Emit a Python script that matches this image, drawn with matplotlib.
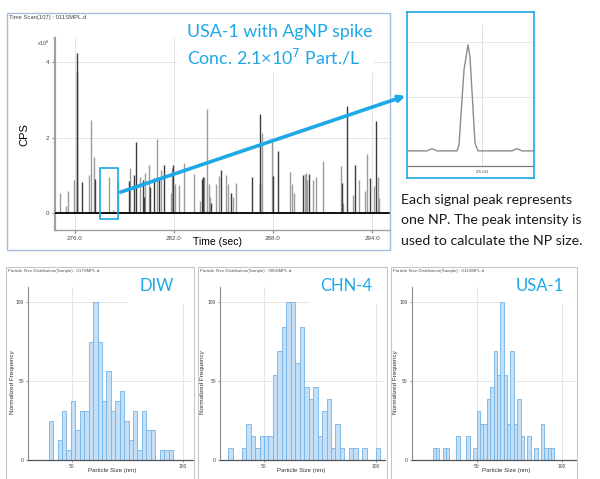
import matplotlib

matplotlib.use("Agg")
import matplotlib.pyplot as plt
from matplotlib.patches import Rectangle, FancyArrowPatch

W, H = 600, 479
BLUE = "#1da8e6"

# Time scan: spike times (s) and heights (x10^6 CPS), dark and light traces
dark_t = [276.10, 276.14, 276.40, 277.23, 279.28, 279.58, 279.72, 280.12, 280.20,
          280.54, 280.78, 281.09, 281.39, 281.95, 283.68, 283.76, 284.26, 284.86,
          285.47, 286.71, 287.20, 287.24, 287.98, 288.28, 289.83, 290.21, 292.18,
          292.48, 292.94, 293.89, 294.23]
dark_h = [3.73, 4.23, 0.84, 0.90, 0.86, 1.02, 1.89, 0.88, 0.42,
          0.71, 0.93, 0.97, 1.29, 1.29, 0.90, 0.97, 0.27, 1.15,
          0.53, 0.97, 2.62, 0.80, 0.99, 1.66, 1.02, 1.04, 0.81,
          2.83, 1.28, 0.93, 2.45]
light_t = [275.10, 275.44, 275.56, 275.96, 276.84, 276.96, 277.13, 278.05, 278.29,
           278.63, 279.34, 279.96, 280.24, 280.46, 280.99, 281.19, 281.79, 281.85,
           282.07, 282.29, 282.63, 283.22, 283.58, 283.80, 284.00, 284.10, 284.20,
           284.56, 284.74, 285.15, 285.27, 285.59, 285.73, 287.32, 287.96, 289.00,
           289.17, 289.25, 289.91, 289.97, 290.07, 290.45, 290.63, 291.06, 292.14,
           292.26, 292.84, 293.19, 293.55, 293.71, 294.15, 294.35, 294.45]
light_h = [0.55, 0.20, 0.60, 0.87, 1.02, 2.48, 1.49, 0.96, 0.09,
           0.82, 1.21, 0.95, 1.07, 1.27, 1.97, 1.15, 0.55, 1.19,
           0.77, 0.75, 1.34, 1.04, 0.33, 0.95, 2.76, 0.78, 0.44,
           0.78, 1.00, 1.02, 0.78, 0.44, 0.80, 2.12, 1.88, 1.10,
           0.78, 0.53, 1.04, 1.06, 0.88, 0.88, 0.95, 1.39, 1.25,
           0.27, 0.49, 0.88, 0.60, 1.58, 0.73, 0.95, 0.40]
time_ticks = [276.0, 282.0, 288.0, 294.0]
cps_ticks = [0, 2, 4]

# Zoomed single peak
inset_t = [278.2365, 278.2385, 278.2390, 278.2395, 278.2415, 278.2417, 278.2422,
           278.2426, 278.2428, 278.2433, 278.2436, 278.2470, 278.2475, 278.2480, 278.2492]
inset_y = [0.02, 0.02, 0.06, 0.02, 0.02, 0.13, 1.49,
           1.945, 1.73, 0.16, 0.02, 0.02, 0.06, 0.02, 0.02]

# Particle size histograms: bin left edges (nm) and counts
diw_bins = [39.5, 43.5, 45.5, 47.5, 49.5, 51.5, 53.5, 55.5, 57.5, 59.5, 61.5, 63.5, 65.5,
            67.5, 69.5, 71.5, 73.5, 75.5, 77.5, 79.5, 81.5, 83.5, 85.5, 89.5, 91.5, 93.5]
diw_counts = [4, 2, 5, 1, 6, 3, 5, 5, 12, 16, 12, 6, 9,
              5, 6, 7, 4, 2, 5, 1, 5, 3, 3, 1, 1, 1]
chn_bins = [34, 40, 42, 44, 46, 48, 50, 52, 54, 56, 58, 60, 62, 64,
            66, 68, 70, 72, 74, 76, 78, 80, 82, 84, 88, 90, 94, 100]
chn_counts = [1, 1, 3, 2, 1, 2, 2, 2, 7, 9, 11, 13, 13, 8,
              11, 6, 5, 6, 2, 4, 5, 1, 3, 1, 1, 1, 1, 1]
usa_bins = [23.8, 25.8, 29.8, 31.8, 37.8, 43.8, 47.8, 49.8, 51.8, 53.8, 55.8, 57.8, 59.8,
            61.8, 63.8, 65.8, 67.8, 69.8, 71.8, 73.8, 75.8, 79.8, 83.8, 87.8, 89.8, 91.8, 93.8]
usa_counts = [1, 1, 1, 1, 2, 2, 1, 4, 3, 3, 5, 6, 9,
              7, 13, 7, 3, 9, 3, 5, 2, 2, 1, 3, 1, 1, 1]

plt.rcParams["font.family"] = ["Liberation Sans", "DejaVu Sans"]


def fig_rect(x0, y0, x1, y1):
    return [x0 / W, 1 - y1 / H, (x1 - x0) / W, (y1 - y0) / H]


def frame(fig, x0, y0, x1, y1, **kw):
    r = Rectangle((x0 / W, 1 - y1 / H), (x1 - x0) / W, (y1 - y0) / H,
                  transform=fig.transFigure, **kw)
    fig.add_artist(r)
    return r


def draw_hist(fig, box, axes_px, bins, counts, xlim, sample, label, cover, label_right,
              xlab_x, ylab_x):
    bx0, by0, bx1, by1 = box
    frame(fig, bx0, by0, bx1, by1, fill=False, ec="#c8c8c8", lw=0.8)
    fig.text((bx0 + 2) / W, 1 - (by0 + 4) / H,
             f"Particle Size Distribution(Sample) : {sample}",
             fontsize=3.2, color="#555555", va="center")
    ax = fig.add_axes(fig_rect(*axes_px))
    peak = max(counts)
    heights = [100.0 * c / peak for c in counts]
    ax.bar(bins, heights, width=2, align="edge", color="#c4dff6",
           edgecolor="#74b4e8", lw=0.6, zorder=2)
    ax.set_xlim(*xlim)
    ax.set_ylim(0, 109.7)
    ax.set_xticks([50, 100])
    ax.set_yticks([0, 50, 100])
    ax.grid(True, color="#e2e2e2", lw=0.6, zorder=0)
    ax.set_axisbelow(True)
    for s in ("top", "right"):
        ax.spines[s].set_visible(False)
    ax.spines["left"].set_color("#8a8a8a")
    ax.spines["left"].set_linewidth(0.8)
    ax.spines["bottom"].set_color("#555555")
    ax.spines["bottom"].set_linewidth(0.9)
    ax.tick_params(labelsize=3.5, length=1.5, width=0.4, pad=1.5, colors="#444444")
    ax.set_xlabel("Particle Size (nm)", fontsize=4.4, color="#333333")
    ax.xaxis.set_label_coords(xlab_x, -0.047)
    ax.set_ylabel("Normalized Frequency", fontsize=4.6, color="#333333")
    ax.yaxis.set_label_coords(ylab_x, 0.45)
    cx0, cx1 = cover
    frame(fig, cx0, by0 + 2, cx1, 304, fc="white", ec="none", zorder=1)
    fig.text(label_right / W, 1 - 286 / H, label, fontsize=12, color=BLUE,
             family=["Lato", "DejaVu Sans"], ha="right", va="center", zorder=3)
    return ax


def main():
    fig = plt.figure(figsize=(6, 4.79), dpi=100)

    # ---- time scan panel ----
    frame(fig, 7, 13, 390, 250, fill=False, ec="#a3bedc", lw=1.0)
    fig.text(9 / W, 1 - 17 / H, "Time Scan(107) : 011SMPL.d", fontsize=4.2,
             color="#444444", va="center")

    ax = fig.add_axes(fig_rect(55, 38, 390, 230))
    ax.vlines(light_t, 0, light_h, color="#9c9c9c", lw=1.0, zorder=2)
    ax.vlines(dark_t, 0, dark_h, color="#3c3c3c", lw=1.0, zorder=3)
    ax.axhline(0, color="black", lw=1.3, zorder=4)
    ax.set_xlim(274.79, 295.09)
    ax.set_ylim(-0.44, 4.64)
    ax.set_xticks(time_ticks)
    ax.set_xticklabels([f"{t:.1f}" for t in time_ticks])
    ax.set_yticks(cps_ticks)
    ax.grid(True, color="#e4e4e4", lw=0.7, zorder=0)
    ax.set_axisbelow(True)
    for s in ("top", "right"):
        ax.spines[s].set_visible(False)
    ax.spines["left"].set_color("#a0a0a0")
    ax.spines["left"].set_linewidth(1.6)
    ax.spines["bottom"].set_color("#a0a0a0")
    ax.spines["bottom"].set_linewidth(1.0)
    ax.tick_params(labelsize=4.5, length=2, width=0.5, pad=2, colors="#444444")
    ax.set_xlabel("Time (sec)", fontsize=7.5)
    ax.xaxis.set_label_coords(0.484, -0.036)
    ax.set_ylabel("CPS", fontsize=8)
    ax.yaxis.set_label_coords(-0.075, 0.495)
    fig.text(37 / W, 1 - 43 / H, r"x10$^{\mathrm{6}}$", fontsize=4, color="#444444",
             va="center")

    # white patch under the blue caption
    frame(fig, 177, 18, 374, 73, fc="white", ec="none", zorder=1)
    fig.text(187 / W, 1 - 32 / H, "USA-1 with AgNP spike", fontsize=12.8, color=BLUE,
             family=["Lato", "DejaVu Sans"], va="center", zorder=3)
    fig.text(187 / W, 1 - 57 / H, r"Conc. 2.1×10$^{\mathrm{7}}$ Part./L", fontsize=12.8,
             color=BLUE, family=["Lato", "DejaVu Sans"], va="center", zorder=3)

    # highlight box and arrow to the zoomed peak
    frame(fig, 100, 168, 118, 219, fill=False, ec=BLUE, lw=1.2, zorder=5)
    arrow = FancyArrowPatch((118 / W, 1 - 193 / H), (408 / W, 1 - 95 / H),
                            transform=fig.transFigure, arrowstyle="-|>",
                            mutation_scale=9, color=BLUE, lw=2.6, zorder=5)
    fig.add_artist(arrow)

    # ---- zoomed peak inset ----
    axi = fig.add_axes(fig_rect(407, 12, 534, 178))
    axi.plot(inset_t, inset_y, color="#8c8c8c", lw=1.0, zorder=3)
    axi.set_xlim(278.2365, 278.2492)
    axi.set_ylim(-0.473, 2.545)
    axi.axhline(1, color="#e8e8e8", lw=0.7, zorder=1)
    axi.axhline(2, color="#e8e8e8", lw=0.7, zorder=1)
    axi.axvline(278.244, ymin=(-0.255 + 0.473) / 3.018, ymax=(2.31 + 0.473) / 3.018,
                color="#e0e0e0", lw=0.7, zorder=1)
    axi.axhline(-0.255, color="#7a7a7a", lw=0.9, zorder=2)
    axi.text(278.244, -0.33, "278.244", fontsize=2.5, color="#555555",
             ha="center", va="top")
    axi.set_xticks([])
    axi.set_yticks([])
    for s in axi.spines.values():
        s.set_color(BLUE)
        s.set_linewidth(1.2)

    note = ["Each signal peak represents",
            "one NP. The peak intensity is",
            "used to calculate the NP size."]
    for i, line in enumerate(note):
        fig.text(401 / W, 1 - (200 + 20.5 * i) / H, line, fontsize=10.2,
                 family=["Lato", "DejaVu Sans"], color="#1a1a1a", va="center")

    # ---- particle size distributions ----
    draw_hist(fig, (6, 267, 194, 485), (28, 287, 193, 460), diw_bins, diw_counts,
              (30.2, 104.5), "017SMPL.d", "DIW", (128, 192), 174, 0.512, -0.079)
    draw_hist(fig, (198, 267, 387, 485), (220, 287, 385, 460), chn_bins, chn_counts,
              (30.3, 104.2), "006SMPL.d", "CHN-4", (310, 384), 372, 0.495, -0.091)
    draw_hist(fig, (391, 267, 577, 485), (411.7, 287, 576, 460), usa_bins, usa_counts,
              (11.5, 108.5), "011SMPL.d", "USA-1", (505, 575), 564, 0.578, -0.083)

    fig.savefig("out.png", dpi=100)


if __name__ == "__main__":
    main()
